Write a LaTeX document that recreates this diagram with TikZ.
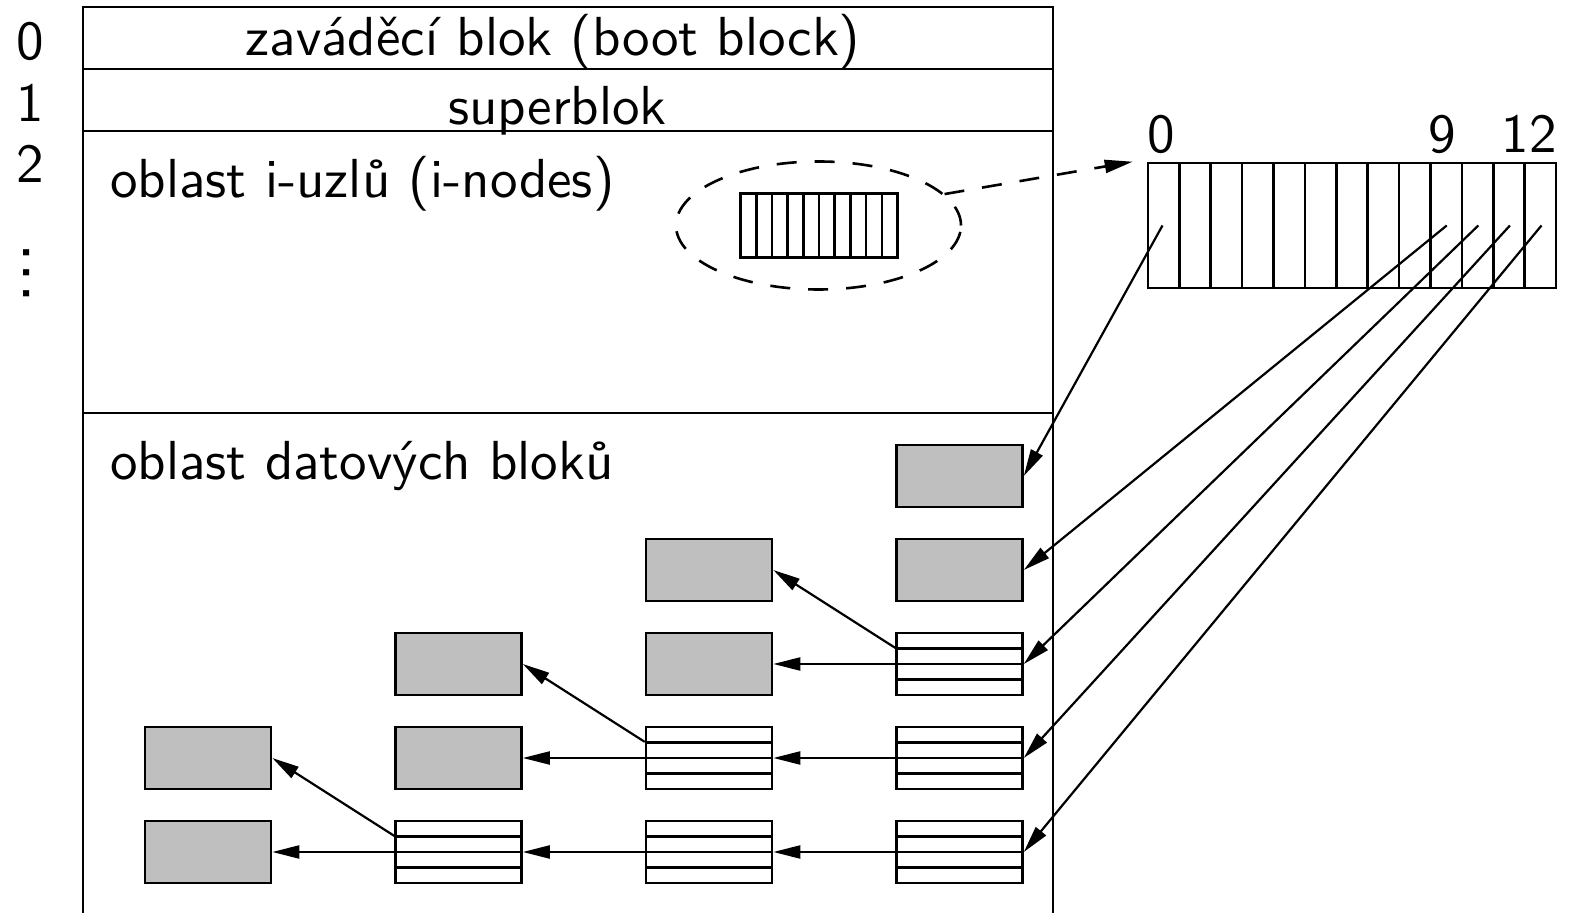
\documentclass[tikz,border=0pt]{standalone}
\usepackage{fontspec}
\newfontfamily\figfont{lmsans10-regular.otf}
\usetikzlibrary{arrows.meta,calc,shapes.geometric}
\definecolor{fillgray}{gray}{0.75}
\begin{document}
\begin{tikzpicture}[x=0.5pt,y=-0.5pt,line width=1.3pt,
  every node/.style={font=\figfont\fontsize{27.5}{32}\selectfont,inner sep=0pt},
  blk/.style={draw,minimum width=63pt,minimum height=31pt},
  full/.style={blk,fill=fillgray},
  ptrblk/.style={blk,path picture={
    \foreach \k in {1,2,3}{
      \draw ($(path picture bounding box.north west)!\k/4!(path picture bounding box.south west)$)
         -- ($(path picture bounding box.north east)!\k/4!(path picture bounding box.south east)$);}}},
  cellrow/.style={draw,path picture={
    \pgfmathtruncatemacro\lastcell{#1-1}
    \foreach \k in {1,...,\lastcell}{
      \draw ($(path picture bounding box.north west)!\k/#1!(path picture bounding box.north east)$)
         -- ($(path picture bounding box.south west)!\k/#1!(path picture bounding box.south east)$);}}},
  dashline/.style={dash pattern=on 10pt off 9pt},
  ptr/.style={line width=1.1pt,-{Triangle[length=13.5pt,width=6.5pt]}}]

\useasboundingbox (0,0) rectangle (1570,913);

% disk layout frame
\draw[line join=miter] (83,913) -- (83,7) -- (1053,7) -- (1053,913);
\draw (83,69) -- (1053,69);
\draw (83,131) -- (1053,131);
\draw (83,413) -- (1053,413);

% block numbers
\node[anchor=base] (l0) at (30,60) {0};
\node[anchor=base] (l1) at (30,122) {1};
\node[anchor=base] (l2) at (30,183) {2};
\node[font=\figfont\fontsize{37}{40}\selectfont,rotate=-90] (dots) at (27,273) {...};

% region titles
\node[anchor=base] (boot) at (553,56) {zaváděcí blok (boot block)};
\node[anchor=base] (super) at (557.5,125) {superblok};
\node[anchor=base west] (inodes) at (109,198) {oblast i-uzlů (i-nodes)};
\node[anchor=base west] (data) at (109,480) {oblast datových bloků};

% i-node table and one selected i-node
\node[cellrow=10,minimum width=78.5pt,minimum height=32pt] (small) at (819,225.5) {};
\node[draw,ellipse,dashline,minimum width=142.5pt,minimum height=64pt] (ell) at (818.5,225.5) {};

% enlarged i-node with its 13 addresses
\node[cellrow=13,minimum width=204pt,minimum height=62.5pt] (arr) at (1352,225.5) {};
\node[anchor=base west] (n0) at (1146,153) {0};
\node[anchor=base west] (n9) at (1427,153) {9};
\node[anchor=base east] (n12) at (1558,153) {12};
\foreach \k in {0,9,10,11,12}
  \coordinate (p\k) at ($(arr.west)!{(\k+0.5)/13}!(arr.east)$);
\coordinate (arrin) at ($(arr.north west)+(-7pt,0)$);
\draw[dashline,-{Triangle[length=14pt,width=6.5pt]}] (ell.14) -- (arrin);

% data blocks and indirect blocks
\foreach \r/\c in {1/4,2/3,2/4,3/2,3/3,4/1,4/2,5/1}
  \node[full] (b\r\c) at ({208+250.5*(\c-1)},{476+94*(\r-1)}) {};
\foreach \r/\c in {3/4,4/3,4/4,5/2,5/3,5/4}
  \node[ptrblk] (b\r\c) at ({208+250.5*(\c-1)},{476+94*(\r-1)}) {};

% direct and indirect addresses
\draw[ptr] (p0) -- (b14.east);
\draw[ptr] (p9) -- (b24.east);
\draw[ptr] (p10) -- (b34.east);
\draw[ptr] (p11) -- (b44.east);
\draw[ptr] (p12) -- (b54.east);

% pointers inside indirect blocks
\foreach \r/\c/\u/\l in {3/4/2/3,4/3/3/2,5/2/4/1}
  \draw[ptr] ($(b\r\c.north west)!0.25!(b\r\c.south west)$) -- (b\u\l.east);
\foreach \r/\c/\l in {3/4/3,4/3/2,4/4/3,5/2/1,5/3/2,5/4/3}
  \draw[ptr] (b\r\c.west) -- (b\r\l.east);
\end{tikzpicture}
\end{document}
